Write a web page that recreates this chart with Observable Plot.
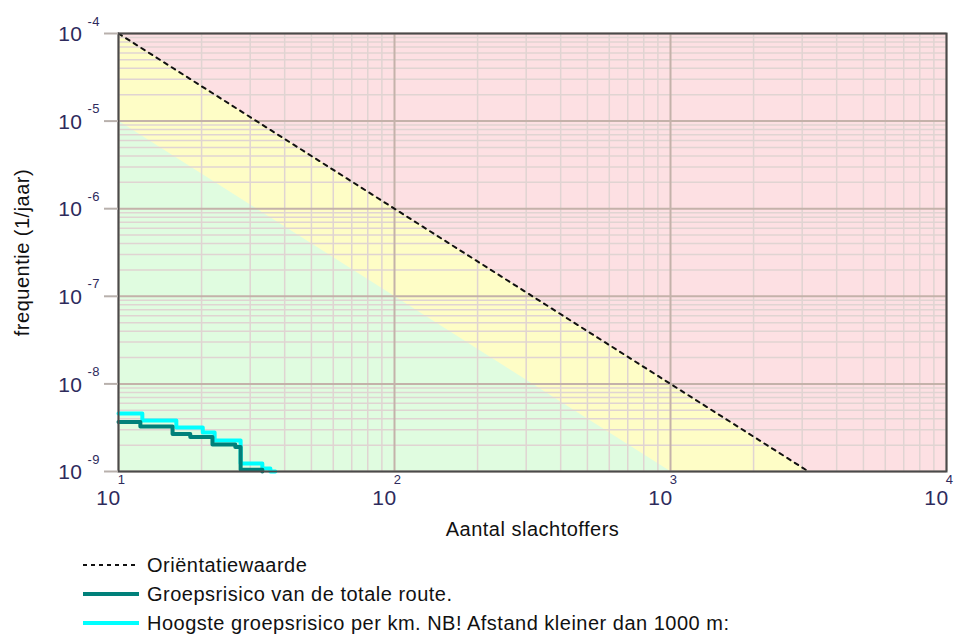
<!DOCTYPE html>
<html>
<head>
<meta charset="utf-8">
<script src="https://cdn.jsdelivr.net/npm/d3@7"></script>
<script src="https://cdn.jsdelivr.net/npm/@observablehq/plot@0.6"></script>
<style>
  html, body { margin: 0; padding: 0; background: #fff; }
  #chart { width: 954px; }
  .legend { position: relative; height: 92px; font-family: "Liberation Sans", Arial, sans-serif; font-size: 20px; color: #111; letter-spacing: 0.5px; }
  .item { position: absolute; left: 83px; height: 30px; display: flex; align-items: center; }
  .item svg { width: 56px; height: 10px; margin-right: 8px; }
</style>
</head>
<body>
<div id="chart"></div>
<script>
// Axis decades (exponents)
const xTickExp = [1, 2, 3, 4];
const yTickExp = [-4, -5, -6, -7, -8, -9];
const xDomain = [10, 10000];
const yDomain = [1e-9, 1e-4];

// Oriëntatiewaarde (dashed) line end points
const oriN = [10, 3162];
const oriF = [1e-4, 1e-9];
// lower boundary (green zone) end points
const lowN = [10, 1000];
const lowF = [1e-5, 1e-9];

// Groepsrisico van de totale route (step line)
const totalN = [10, 12, 15.7, 18.2, 21.9, 26.5, 27.7, 33.2];
const totalF = [3.67e-9, 3.26e-9, 2.68e-9, 2.48e-9, 2.03e-9, 1.9e-9, 1.05e-9, 1e-9];
// Hoogste groepsrisico per km (step line)
const maxN = [10, 12.2, 16.2, 20.2, 22.3, 27.7, 33.2, 35.5, 37];
const maxF = [4.59e-9, 3.82e-9, 3.18e-9, 2.79e-9, 2.26e-9, 1.23e-9, 1.08e-9, 1e-9, 1e-9];

// Legend labels
const legendLabels = ["Oriëntatiewaarde", "Groepsrisico van de totale route.", "Hoogste groepsrisico per km. NB! Afstand kleiner dan 1000 m:"];

const ori = oriN.map((n, i) => ({n, f: oriF[i]}));
const low = lowN.map((n, i) => ({n, f: lowF[i]}));
const total = totalN.map((n, i) => ({n, f: totalF[i]}));
const maxr = maxN.map((n, i) => ({n, f: maxF[i]}));

const xMajor = xTickExp.map(e => 10 ** e);
const yMajor = yTickExp.map(e => 10 ** e);
const xMinor = d3.scaleLog().domain(xDomain).ticks().filter(v => !xMajor.includes(v));
const yMinor = d3.scaleLog().domain(yDomain).ticks().filter(v => !yMajor.some(m => Math.abs(m - v) / m < 1e-6));

const labelColor = "#2e2a5c";

const chart = Plot.plot({
  width: 954,
  height: 545,
  marginLeft: 118,
  marginRight: 8,
  marginTop: 33,
  marginBottom: 74,
  x: {type: "log", domain: xDomain, axis: null},
  y: {type: "log", domain: yDomain, axis: null},
  style: {fontFamily: "'Liberation Sans', Arial, sans-serif", background: "transparent", overflow: "visible"},
  marks: [
    Plot.frame({fill: "#fde0e3", stroke: null}),
    Plot.areaY(ori, {x: "n", y1: 1e-9, y2: "f", fill: "#fefdc6"}),
    Plot.areaY(low, {x: "n", y1: 1e-9, y2: "f", fill: "#e0fce0"}),
    Plot.ruleX(xMinor, {stroke: "#e0d4d2", strokeWidth: 1.5}),
    Plot.ruleY(yMinor, {stroke: "#e0d4d2", strokeWidth: 1.5}),
    Plot.ruleX(xMajor, {stroke: "#c4b2aa", strokeWidth: 2}),
    Plot.ruleY(yMajor, {stroke: "#c4b2aa", strokeWidth: 2}),
    Plot.line(ori, {x: "n", y: "f", stroke: "#111", strokeWidth: 2, strokeDasharray: "4,5"}),
    Plot.line(maxr, {x: "n", y: "f", curve: "step-after", stroke: "#00ffff", strokeWidth: 4}),
    Plot.line(total, {x: "n", y: "f", curve: "step-after", stroke: "#00807a", strokeWidth: 4}),
    Plot.frame({stroke: "#4a4a4a", strokeWidth: 2}),
    Plot.axisY(yMajor, {tickSize: 14, tickFormat: () => "", stroke: "#b8b0ac", strokeWidth: 2, label: null}),
    // y tick labels
    Plot.text(yTickExp, {y: d => 10 ** d, frameAnchor: "left", text: () => "10", textAnchor: "end", dx: -36, dy: 1, fontSize: 21, fill: labelColor}),
    Plot.text(yTickExp, {y: d => 10 ** d, frameAnchor: "left", text: d => String(d), textAnchor: "start", dx: -31, dy: -12, fontSize: 13, fill: labelColor}),
    // x tick labels
    Plot.text(xTickExp, {x: d => 10 ** d, frameAnchor: "bottom", text: () => "10", dx: -10, dy: 33, fontSize: 21, fill: labelColor}),
    Plot.text(xTickExp, {x: d => 10 ** d, frameAnchor: "bottom", text: d => String(d), dx: 3, dy: 12, fontSize: 13, fill: labelColor}),
    // axis titles
    Plot.text(["Aantal slachtoffers"], {frameAnchor: "bottom", dy: 64, fontSize: 20, fill: "#111"}),
    Plot.text(["frequentie (1/jaar)"], {frameAnchor: "left", textAnchor: "middle", rotate: -90, dx: -96, fontSize: 20, fill: "#111"})
  ]
});
chart.querySelectorAll("text").forEach(t => t.style.letterSpacing = "0.5px");
document.getElementById("chart").appendChild(chart);

// Legend
const legend = d3.select("body").append("div").attr("class", "legend");
const samples = [
  {stroke: "#111", width: 2, dash: "4,4"},
  {stroke: "#00807a", width: 4, dash: null},
  {stroke: "#00ffff", width: 4, dash: null}
];
legendLabels.forEach((lab, i) => {
  const it = legend.append("div").attr("class", "item").style("top", (5 + i * 29) + "px");
  const s = it.append("svg").attr("viewBox", "0 0 56 10");
  s.append("line").attr("x1", 0).attr("x2", 56).attr("y1", 5).attr("y2", 5)
    .attr("stroke", samples[i].stroke).attr("stroke-width", samples[i].width)
    .attr("stroke-dasharray", samples[i].dash);
  it.append("span").text(lab);
});
</script>
</body>
</html>
